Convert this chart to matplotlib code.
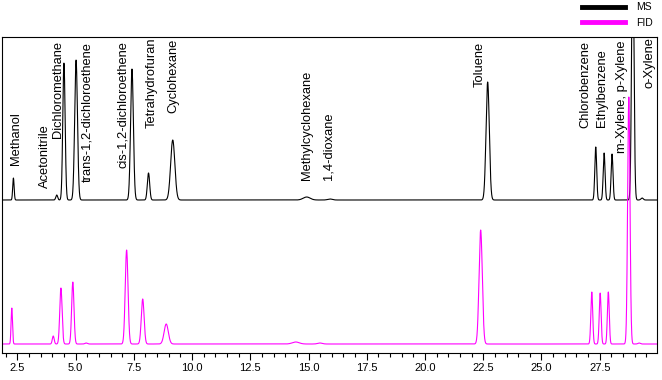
import matplotlib
matplotlib.use('Agg')
import matplotlib.pyplot as plt
import numpy as np
from matplotlib.lines import Line2D
from matplotlib.ticker import MultipleLocator

# MS trace peaks: retention time (min), height, width
ms_rt = [2.33, 4.19, 4.50, 5.02, 7.42, 8.13, 9.17, 14.92, 15.92, 22.69,
         27.33, 27.69, 28.03, 28.92, 29.32]
ms_height = [22, 5, 137, 140, 131, 27, 60, 3, 1, 118, 53, 47, 46, 260, 2]
ms_sigma = [0.03, 0.04, 0.05, 0.06, 0.06, 0.05, 0.09, 0.15, 0.10, 0.07,
            0.04, 0.04, 0.04, 0.05, 0.05]

# FID trace peaks
fid_rt = [2.26, 4.04, 4.37, 4.88, 5.45, 7.19, 7.88, 8.89, 14.45, 15.49,
          22.39, 27.16, 27.52, 27.87, 28.75, 29.19]
fid_height = [36, 8, 56, 62, 1, 94, 45, 20, 2, 1, 114, 52, 51, 52, 247, 1]
fid_sigma = [0.03, 0.04, 0.05, 0.05, 0.05, 0.06, 0.06, 0.09, 0.15, 0.10,
             0.07, 0.04, 0.04, 0.04, 0.05, 0.05]

ms_offset = 144

# compound labels
names = ['Methanol', 'Acetonitrile', 'Dichloromethane', 'trans-1,2-dichloroethene',
         'cis-1,2-dichloroethene', 'Tetrahydrofuran', 'Cyclohexane',
         'Methylcyclohexane', '1,4-dioxane', 'Toluene', 'Chlorobenzene',
         'Ethylbenzene', 'm-Xylene, p-Xylene', 'o-Xylene']
label_x = [2.46, 3.69, 4.24, 5.49, 7.04, 8.28, 9.18, 14.94, 15.84, 22.36,
           26.87, 27.60, 28.46, 29.62]
label_y = [179, 156, 206, 162, 176, 216, 231, 164, 164, 257, 216, 217, 191, 256]

xmin, xmax = 1.84, 29.96
t = np.linspace(xmin, xmax, 6000)

def trace(rts, hs, sig):
    y = np.zeros_like(t)
    for r, h, s in zip(rts, hs, sig):
        y += h * np.exp(-0.5 * ((t - r) / s) ** 2)
    return y

ms = trace(ms_rt, ms_height, ms_sigma) + ms_offset
fid = trace(fid_rt, fid_height, fid_sigma)

plt.rcParams['font.family'] = ['Liberation Sans', 'DejaVu Sans']

fig = plt.figure(figsize=(6.62, 3.8), dpi=100)
ax = fig.add_axes([2 / 662, 27 / 380, 655 / 662, 316 / 380])

ax.plot(t, ms, color='black', lw=0.8)
ax.plot(t, fid, color='#ff00ff', lw=0.8)

for n, x, y in zip(names, label_x, label_y):
    ax.text(x, y, n, rotation=90, ha='center', va='bottom', fontsize=9.3)

ax.set_xlim(xmin, xmax)
ax.set_ylim(-9, 307)
ax.set_yticks([])
ax.xaxis.set_major_locator(MultipleLocator(2.5))
ax.xaxis.set_minor_locator(MultipleLocator(0.5))
ax.tick_params(axis='x', which='major', length=5, width=0.8, labelsize=8, pad=2)
ax.tick_params(axis='x', which='minor', length=3, width=0.8)
for s in ax.spines.values():
    s.set_linewidth(0.8)

handles = [Line2D([], [], color='black', lw=3.5),
           Line2D([], [], color='#ff00ff', lw=3.5)]
fig.legend(handles, ['MS', 'FID'], loc='upper right', bbox_to_anchor=(0.995, 1.01),
           frameon=False, fontsize=7.5, handlelength=4.2, handletextpad=1.0,
           labelspacing=0.5, borderaxespad=0.2)

fig.savefig('out.png', dpi=100)
